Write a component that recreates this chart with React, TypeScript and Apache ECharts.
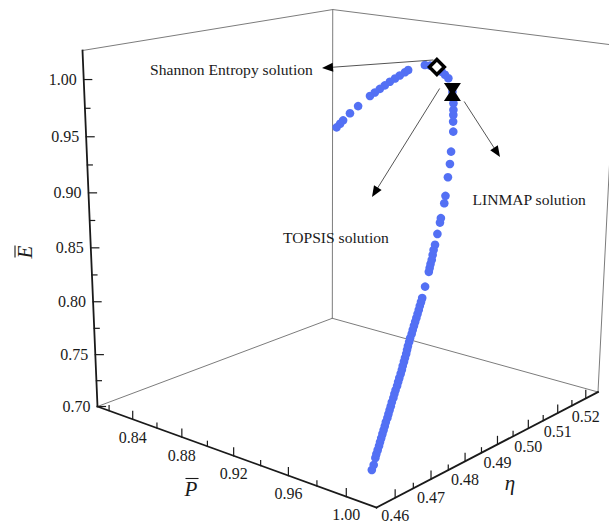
import React, { useEffect, useRef } from "react";
import * as echarts from "echarts";

// Pareto front of the normalised power P̄, efficiency η and ecological
// function Ē, ordered from the maximum-power end to the maximum-efficiency end.
const P_BAR = [
  1.0, 1.0, 0.9996, 0.9995, 0.9994, 0.9993, 0.9992, 0.999, 0.9988, 0.9986,
  0.9984, 0.9981, 0.9979, 0.9976, 0.9974, 0.9972, 0.9969, 0.9967, 0.9964, 0.9962,
  0.996, 0.9957, 0.9955, 0.9952, 0.995, 0.9946, 0.9942, 0.9939, 0.9935, 0.9931,
  0.9927, 0.9923, 0.992, 0.9916, 0.9911, 0.9907, 0.9903, 0.9899, 0.9895, 0.9891,
  0.9886, 0.9882, 0.9878, 0.9864, 0.9846, 0.9842, 0.9836, 0.983, 0.9822, 0.9814,
  0.9807, 0.979, 0.9772, 0.9764, 0.974, 0.9727, 0.9694, 0.967, 0.9647, 0.961,
  0.9592, 0.9581, 0.9572, 0.956, 0.955, 0.954, 0.946, 0.942, 0.938, 0.932,
  0.9252, 0.92, 0.903, 0.8997, 0.8946, 0.8895, 0.8844, 0.8793, 0.8742, 0.8691,
  0.864, 0.852, 0.8436, 0.8367, 0.8334, 0.83,
];
const ETA = [
  0.4618, 0.4623, 0.4629, 0.4632, 0.4636, 0.464, 0.4643, 0.4647, 0.4651, 0.4655,
  0.4659, 0.4663, 0.4668, 0.4672, 0.4676, 0.468, 0.4684, 0.4689, 0.4693, 0.4697,
  0.4702, 0.4706, 0.471, 0.4715, 0.4719, 0.4723, 0.4728, 0.4732, 0.4737, 0.4741,
  0.4745, 0.475, 0.4754, 0.476, 0.4765, 0.477, 0.4775, 0.478, 0.4785, 0.479,
  0.4795, 0.48, 0.4805, 0.4819, 0.4837, 0.4841, 0.4846, 0.4852, 0.4858, 0.4864,
  0.4871, 0.4885, 0.49, 0.4906, 0.4926, 0.4935, 0.4956, 0.4972, 0.4985, 0.5007,
  0.5014, 0.5019, 0.5023, 0.5028, 0.5031, 0.5033, 0.5055, 0.5062, 0.5069, 0.508,
  0.5088, 0.5094, 0.5114, 0.5118, 0.5123, 0.5129, 0.5134, 0.5139, 0.5144, 0.5149,
  0.5154, 0.5164, 0.5171, 0.5176, 0.5179, 0.5181,
];
const E_BAR = [
  0.7122, 0.7158, 0.7208, 0.7237, 0.7266, 0.7295, 0.7324, 0.7352, 0.7381, 0.7409,
  0.7437, 0.7465, 0.7493, 0.752, 0.7548, 0.7576, 0.7604, 0.7633, 0.7661, 0.7689,
  0.7718, 0.7746, 0.7774, 0.7803, 0.7831, 0.7859, 0.7887, 0.7914, 0.7942, 0.797,
  0.7997, 0.8025, 0.8053, 0.8081, 0.8108, 0.8136, 0.8163, 0.819, 0.8218, 0.8245,
  0.8273, 0.83, 0.8328, 0.8407, 0.8511, 0.8539, 0.8567, 0.8595, 0.863, 0.8665,
  0.8701, 0.8778, 0.8858, 0.8889, 0.8995, 0.9049, 0.9187, 0.9285, 0.9378, 0.953,
  0.961, 0.9663, 0.9703, 0.9756, 0.9806, 0.985, 0.9941, 0.996, 0.9976, 1.0,
  0.9995, 0.9987, 0.9897, 0.9868, 0.9825, 0.9782, 0.9739, 0.9691, 0.9644, 0.9596,
  0.9548, 0.9417, 0.9323, 0.9234, 0.919, 0.9145,
];

// Decision-making solutions [P̄, η, Ē]
const SHANNON = [0.932, 0.508, 1.0];
const TOPSIS = [0.954, 0.5033, 0.985];
const LINMAP = [0.954, 0.5033, 0.985];

// Axis ranges and ticks
const P_RANGE = [0.81, 1.02];
const ETA_RANGE = [0.455, 0.5245];
const E_RANGE = [0.7, 1.025];
const P_TICKS = [0.84, 0.88, 0.92, 0.96, 1.0];
const P_MINOR = [0.82, 0.86, 0.9, 0.94, 0.98];
const ETA_TICKS = [0.46, 0.47, 0.48, 0.49, 0.5, 0.51, 0.52];
const ETA_MINOR = [0.465, 0.475, 0.485, 0.495, 0.505, 0.515];
const E_TICKS = [0.7, 0.75, 0.8, 0.85, 0.9, 0.95, 1.0];
const E_MINOR = [0.725, 0.775, 0.825, 0.875, 0.925, 0.975];

const BLUE = "#5370f4";
const INK = "#1a1a1a";
const WALL = "#7c7c7c";
const SERIF = '"Liberation Serif", "Times New Roman", serif';

// Perspective view of the box: screen anchors of the floor corners and the
// top of the Ē axis, plus the depth change along Ē.
const VIEW = {
  origin: [97.5, 406.5], // P min, η min, Ē min
  pEnd: [376.5, 507.5], // P max, η min, Ē min
  etaEnd: [332.3, 318.3], // P min, η max, Ē min
  floorFar: [598, 392], // P max, η max, Ē min
  eTop: [82.5, 50.5], // P min, η min, Ē max
  eDepth: -0.062,
};

type Pt = [number, number];

function makeProjection() {
  const [ox, oy] = VIEW.origin;
  const [ux, uy] = VIEW.pEnd;
  const [vx, vy] = VIEW.etaEnd;
  const [fx, fy] = VIEW.floorFar;
  const a11 = ux - fx, a12 = vx - fx, b1 = fx - ux - vx + ox;
  const a21 = uy - fy, a22 = vy - fy, b2 = fy - uy - vy + oy;
  const det = a11 * a22 - a12 * a21;
  const p = (b1 * a22 - a12 * b2) / det;
  const q = (a11 * b2 - b1 * a21) / det;
  const r = VIEW.eDepth;
  const au = [ux * (1 + p) - ox, uy * (1 + p) - oy];
  const av = [vx * (1 + q) - ox, vy * (1 + q) - oy];
  const aw = [VIEW.eTop[0] * (1 + r) - ox, VIEW.eTop[1] * (1 + r) - oy];
  return (P: number, eta: number, E: number): Pt => {
    const u = (P - P_RANGE[0]) / (P_RANGE[1] - P_RANGE[0]);
    const v = (eta - ETA_RANGE[0]) / (ETA_RANGE[1] - ETA_RANGE[0]);
    const w = (E - E_RANGE[0]) / (E_RANGE[1] - E_RANGE[0]);
    const d = 1 + p * u + q * v + r * w;
    return [
      (ox + au[0] * u + av[0] * v + aw[0] * w) / d,
      (oy + au[1] * u + av[1] * v + aw[1] * w) / d,
    ];
  };
}

const project = makeProjection();

const line = (a: Pt, b: Pt, stroke: string, lineWidth: number, z = 1) => ({
  type: "line",
  z,
  silent: true,
  shape: { x1: a[0], y1: a[1], x2: b[0], y2: b[1] },
  style: { stroke, lineWidth, lineCap: "square" },
});

const label = (
  x: number,
  y: number,
  s: string,
  align: string,
  size: number,
  extra: Record<string, unknown> = {}
) => ({
  type: "text",
  x,
  y,
  z: 20,
  silent: true,
  style: {
    text: s,
    fill: INK,
    fontSize: size,
    fontFamily: SERIF,
    align,
    textAlign: align,
    verticalAlign: "middle",
    textVerticalAlign: "middle",
    ...extra,
  },
});

function arrow(from: Pt, tip: Pt) {
  const dx = tip[0] - from[0];
  const dy = tip[1] - from[1];
  const len = Math.hypot(dx, dy);
  const ux = dx / len, uy = dy / len;
  const head = 11, half = 4.5;
  const base: Pt = [tip[0] - ux * head, tip[1] - uy * head];
  return [
    line(from, base, "#555", 1, 15),
    {
      type: "polygon",
      z: 15,
      silent: true,
      shape: {
        points: [
          tip,
          [base[0] - uy * half, base[1] + ux * half],
          [base[0] + uy * half, base[1] - ux * half],
        ],
      },
      style: { fill: "#000" },
    },
  ];
}

function buildGraphic() {
  const [P0, P1] = P_RANGE;
  const [h0, h1] = ETA_RANGE;
  const [E0, E1] = E_RANGE;
  const els: any[] = [];

  // back walls and floor edges
  const walls: [number[], number[]][] = [
    [[P0, h0, E1], [P0, h1, E1]],
    [[P0, h1, E0], [P0, h1, E1]],
    [[P0, h1, E1], [P1, h1, E1]],
    [[P1, h1, E0], [P1, h1, E1]],
    [[P0, h0, E0], [P0, h1, E0]],
    [[P0, h1, E0], [P1, h1, E0]],
  ];
  walls.forEach(([a, b]) =>
    els.push(line(project(a[0], a[1], a[2]), project(b[0], b[1], b[2]), WALL, 1))
  );

  // axes
  els.push(line(project(P0, h0, E0), project(P0, h0, E1), INK, 1.8, 3));
  els.push(line(project(P0, h0, E0), project(P1, h0, E0), INK, 1.8, 3));
  els.push(line(project(P1, h0, E0), project(P1, h1, E0), INK, 1.8, 3));

  // Ē ticks
  E_TICKS.forEach((e) => {
    const [x, y] = project(P0, h0, e);
    els.push(line([x, y], [x + 8, y], INK, 1.2, 3));
    els.push(label(x - 7, y, e.toFixed(2), "right", 16));
  });
  E_MINOR.forEach((e) => {
    const [x, y] = project(P0, h0, e);
    els.push(line([x, y], [x + 5, y], INK, 1.2, 3));
  });

  // P̄ ticks
  P_TICKS.forEach((p) => {
    const [x, y] = project(p, h0, E0);
    els.push(line([x, y], [x, y - 8], INK, 1.2, 3));
    els.push(label(x, y + 18, p.toFixed(2), "center", 16));
  });
  P_MINOR.forEach((p) => {
    const [x, y] = project(p, h0, E0);
    els.push(line([x, y], [x, y - 5], INK, 1.2, 3));
  });

  // η ticks
  ETA_TICKS.forEach((h) => {
    const [x, y] = project(P1, h, E0);
    els.push(line([x, y], [x, y - 8], INK, 1.2, 3));
    els.push(label(x, y + 18, h.toFixed(2), "center", 16));
  });
  ETA_MINOR.forEach((h) => {
    const [x, y] = project(P1, h, E0);
    els.push(line([x, y], [x, y - 5], INK, 1.2, 3));
  });

  // axis titles
  els.push({
    type: "group",
    x: 25,
    y: 252,
    rotation: Math.PI / 2,
    children: [
      label(0, 0, "E", "center", 21, { fontStyle: "italic" }),
      line([-5, -10], [6, -10], INK, 1.1, 20),
    ],
  });
  els.push(label(191, 489, "P", "center", 21, { fontStyle: "italic" }));
  els.push(line([186, 478.5], [198, 478.5], INK, 1.1, 20));
  els.push(label(510, 483, "η", "center", 21, { fontStyle: "italic" }));

  // annotations
  const s = project(SHANNON[0], SHANNON[1], SHANNON[2]);
  const t = project(TOPSIS[0], TOPSIS[1], TOPSIS[2]);
  const l = project(LINMAP[0], LINMAP[1], LINMAP[2]);
  els.push(...arrow([s[0] - 4, s[1] - 7], [322, 68]));
  els.push(...arrow([t[0] - 13, t[1] - 3], [372, 197]));
  els.push(...arrow([l[0] + 12, l[1] + 10], [500, 157]));
  els.push(label(150, 69, "Shannon Entropy solution", "left", 15.6));
  els.push(label(283, 237, "TOPSIS solution", "left", 15.6));
  els.push(label(472.5, 199, "LINMAP solution", "left", 15.6));

  return els;
}

function pointSeries(name: string, data: number[][], shape: (c: Pt) => any) {
  return {
    type: "custom",
    name,
    coordinateSystem: "none",
    silent: true,
    z: 5,
    data,
    renderItem: (_params: any, api: any) =>
      shape(project(api.value(0), api.value(1), api.value(2))),
  };
}

export default function App() {
  const ref = useRef<HTMLDivElement>(null);

  useEffect(() => {
    if (!ref.current) return;
    const chart = echarts.init(ref.current, undefined, { renderer: "svg" });
    const front = P_BAR.map((p, i) => [p, ETA[i], E_BAR[i]]);

    chart.setOption({
      animation: false,
      backgroundColor: "#ffffff",
      graphic: { elements: buildGraphic() },
      series: [
        pointSeries("Pareto front", front, ([x, y]) => ({
          type: "circle",
          shape: { cx: x, cy: y, r: 4.3 },
          style: { fill: BLUE },
        })),
        pointSeries("Shannon Entropy", [SHANNON], ([x, y]) => ({
          type: "polygon",
          shape: {
            points: [
              [x, y - 7.5],
              [x + 7.5, y],
              [x, y + 7.5],
              [x - 7.5, y],
            ],
          },
          style: { fill: "#ffffff", stroke: "#000", lineWidth: 3.4 },
        })),
        pointSeries("TOPSIS", [TOPSIS], ([x, y]) => ({
          type: "polygon",
          shape: {
            points: [
              [x - 8.5, y - 9],
              [x + 8.5, y - 9],
              [x, y + 4],
            ],
          },
          style: { fill: "#000" },
        })),
        pointSeries("LINMAP", [LINMAP], ([x, y]) => ({
          type: "polygon",
          shape: {
            points: [
              [x - 8.5, y + 9],
              [x + 8.5, y + 9],
              [x, y - 4],
            ],
          },
          style: { fill: "#000" },
        })),
      ],
    });

    return () => chart.dispose();
  }, []);

  return (
    <div
      ref={ref}
      style={{ position: "absolute", left: 0, top: 0, width: 609, height: 527 }}
    />
  );
}
